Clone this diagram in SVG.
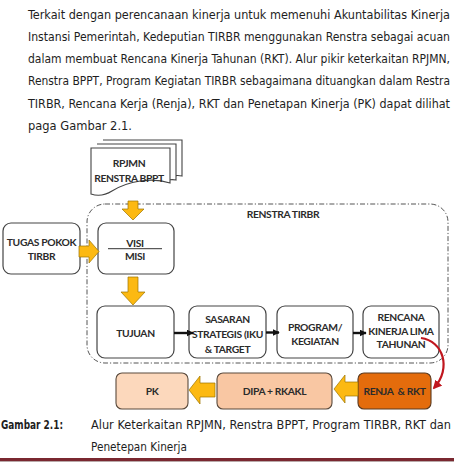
<svg xmlns="http://www.w3.org/2000/svg" width="454" height="462" viewBox="0 0 454 462">
<defs>
<style>
.para{font-family:'DejaVu Sans Condensed','DejaVu Sans',sans-serif;font-size:12px;fill:#1e1e1e}
.capb{font-family:'DejaVu Sans Condensed','DejaVu Sans',sans-serif;font-size:12px;font-weight:bold;fill:#1e1e1e}
.lbl{font-family:Lato,'Liberation Sans',sans-serif;font-size:10.3px;font-weight:bold;fill:#2b2b2b;text-anchor:middle;letter-spacing:-0.35px}
.box{fill:#fff;stroke:#444;stroke-width:1.2}
.ybig{fill:#FCB912;stroke:#9C7400;stroke-width:0.7}
.blk{stroke:#111;stroke-width:2.4;fill:none}
.pg{fill:#fff;stroke:#444;stroke-width:1.1}
</style>
<marker id="ah" viewBox="0 0 10 10" refX="9" refY="5" markerWidth="7" markerHeight="7" markerUnits="userSpaceOnUse" orient="auto">
<path d="M0 0 L10 5 L0 10 Z" fill="#111"/>
</marker>
<marker id="ahr" viewBox="0 0 10 10" refX="8" refY="5" markerWidth="9" markerHeight="9" markerUnits="userSpaceOnUse" orient="auto">
<path d="M0 0 L10 5 L0 10 Z" fill="#C0161E"/>
</marker>
</defs>

<g id="paragraph">
<text class="para" x="28" y="18.7" textLength="422" lengthAdjust="spacingAndGlyphs">Terkait dengan perencanaan kinerja untuk memenuhi Akuntabilitas Kinerja</text>
<text class="para" x="28" y="40.9" textLength="422" lengthAdjust="spacingAndGlyphs">Instansi Pemerintah, Kedeputian TIRBR menggunakan Renstra sebagai acuan</text>
<text class="para" x="28" y="63.1" textLength="422" lengthAdjust="spacingAndGlyphs">dalam membuat Rencana Kinerja Tahunan (RKT). Alur pikir keterkaitan RPJMN,</text>
<text class="para" x="28" y="85.3" textLength="422" lengthAdjust="spacingAndGlyphs">Renstra BPPT, Program Kegiatan TIRBR sebagaimana dituangkan dalam Restra</text>
<text class="para" x="28" y="107.5" textLength="422" lengthAdjust="spacingAndGlyphs">TIRBR, Rencana Kerja (Renja), RKT dan Penetapan Kinerja (PK) dapat dilihat</text>
<text class="para" x="28" y="129.7" textLength="104" lengthAdjust="spacingAndGlyphs">paga Gambar 2.1.</text>
</g>

<g id="renstra-tirbr">
<rect x="87" y="204" width="361" height="159" rx="18" fill="none" stroke="#555" stroke-width="1" stroke-dasharray="5 2 1.2 2"/>
<text class="lbl" x="283" y="218">RENSTRA TIRBR</text>
</g>

<g id="rpjmn">
<path class="pg" d="M103 140 H182 V176 C 180 175.5, 178 175.5, 176 175.6"/>
<path class="pg" d="M97 144 H176 V180 C 174 179.5, 172 179.5, 170 179.7"/>
<path class="pg" d="M91 148 H170 V183 C 152 177, 128 181, 112 191 C 104 196, 97 196, 91 194 Z"/>
<text class="lbl" x="129" y="166.5">RPJMN</text>
<text class="lbl" x="129" y="181.5">RENSTRA BPPT</text>
</g>

<g id="tugas">
<rect class="box" x="3" y="223" width="77" height="51" rx="8"/>
<text class="lbl" x="41.5" y="246">TUGAS POKOK</text>
<text class="lbl" x="41.5" y="260">TIRBR</text>
</g>

<g id="visi-misi">
<rect class="box" x="98" y="223" width="76" height="51" rx="8"/>
<text class="lbl" x="135" y="246.5">VISI</text>
<line x1="108" y1="248.7" x2="162" y2="248.7" stroke="#333" stroke-width="1"/>
<text class="lbl" x="135" y="260">MISI</text>
</g>

<g id="tujuan">
<rect class="box" x="97" y="306" width="77" height="52" rx="8"/>
<text class="lbl" x="135.5" y="337">TUJUAN</text>
</g>

<g id="sasaran">
<rect class="box" x="189" y="306" width="77" height="52" rx="8"/>
<text class="lbl" x="227.5" y="323">SASARAN</text>
<text class="lbl" x="227.5" y="338">STRATEGIS (IKU</text>
<text class="lbl" x="227.5" y="352.5">&amp; TARGET</text>
</g>

<g id="program">
<rect class="box" x="277" y="306" width="76" height="52" rx="8"/>
<text class="lbl" x="315" y="331">PROGRAM/</text>
<text class="lbl" x="315" y="345">KEGIATAN</text>
</g>

<g id="rencana">
<rect class="box" x="363" y="306" width="76" height="52" rx="8"/>
<text class="lbl" x="401" y="321">RENCANA</text>
<text class="lbl" x="401" y="334.5">KINERJA LIMA</text>
<text class="lbl" x="401" y="348">TAHUNAN</text>
</g>

<g id="pk">
<rect x="116" y="373" width="72" height="36" rx="6" fill="#FCD8BC" stroke="#5a4a3c" stroke-width="1.1"/>
<text class="lbl" x="152" y="395">PK</text>
</g>

<g id="dipa">
<rect x="217" y="373" width="115" height="36" rx="6" fill="#F9C7A3" stroke="#5a4a3c" stroke-width="1.1"/>
<text class="lbl" x="274.5" y="395">DIPA + RKAKL</text>
</g>

<g id="renja">
<rect x="358" y="373" width="73" height="36" rx="6" fill="#E46C0C" stroke="#5a3a20" stroke-width="1.1"/>
<text class="lbl" x="394.5" y="395" style="white-space:pre">RENJA  &amp; RKT</text>
</g>

<g id="connectors">
<polygon class="ybig" points="128,201 138,201 138,209 144,209 133,220 122,209 128,209"/>
<polygon class="ybig" points="79,246 89,246 89,240 99,251.5 89,263 89,257 79,257"/>
<polygon class="ybig" points="128,277 138,277 138,292 145,292 133,305 121,292 128,292"/>
<polygon class="ybig" points="358,382 345,382 345,375 334,389 345,403 345,396 358,396"/>
<polygon class="ybig" points="215,383 200,383 200,376 189,390 200,404 200,397 215,397"/>
<line class="blk" x1="174" y1="333" x2="193" y2="333" marker-end="url(#ah)"/>
<line class="blk" x1="266" y1="332.5" x2="279" y2="332.5" marker-end="url(#ah)"/>
<line class="blk" x1="353" y1="333" x2="366" y2="333" marker-end="url(#ah)"/>
<path d="M421 338 C 443 341, 452 368, 434 388" fill="none" stroke="#C0161E" stroke-width="2.2" marker-end="url(#ahr)"/>
</g>

<g id="caption">
<text class="capb" x="1" y="429" textLength="62" lengthAdjust="spacingAndGlyphs">Gambar 2.1:</text>
<text class="para" x="91" y="429" textLength="360" lengthAdjust="spacingAndGlyphs">Alur Keterkaitan RPJMN, Renstra BPPT, Program TIRBR, RKT dan</text>
<text class="para" x="91" y="451" textLength="96" lengthAdjust="spacingAndGlyphs">Penetepan Kinerja</text>
<line x1="0" y1="459.5" x2="454" y2="459.5" stroke="#7A2830" stroke-width="3"/>
<line x1="0" y1="461.5" x2="454" y2="461.5" stroke="#b9a9a9" stroke-width="1"/>
</g>
</svg>
